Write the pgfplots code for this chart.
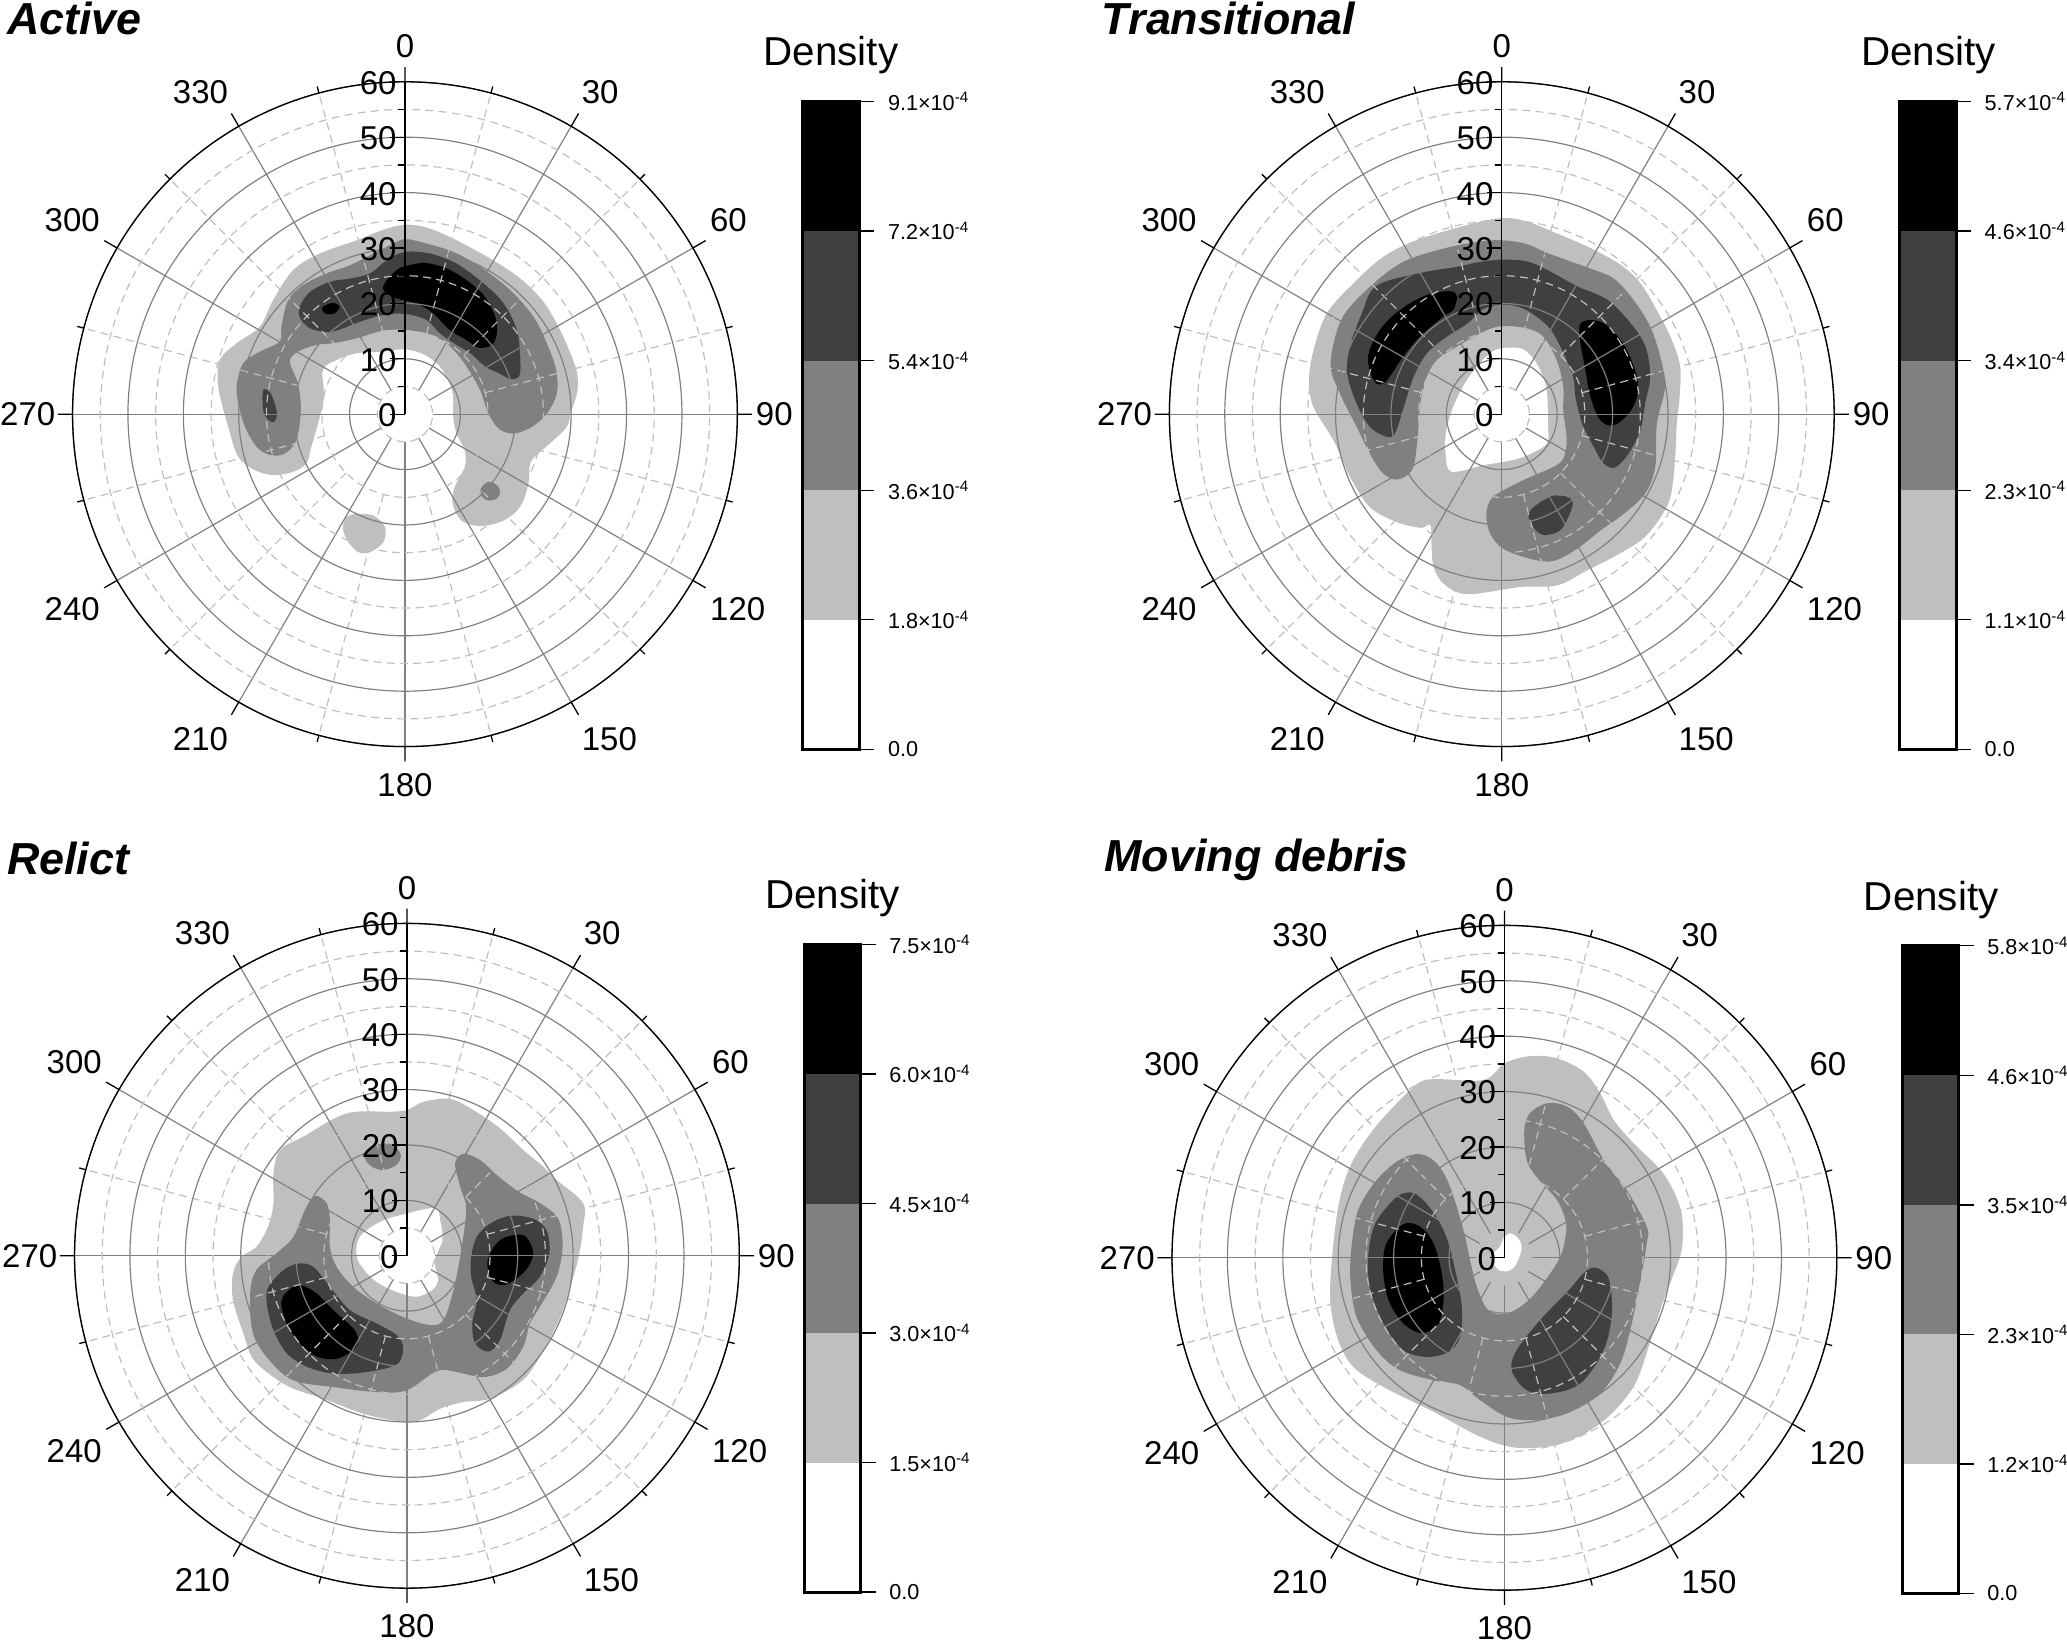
\documentclass[border=0pt]{standalone}
\usepackage{fontspec}
\setmainfont{Liberation Sans}
\usepackage{pgfplots}
\pgfplotsset{compat=1.18}
\usepgfplotslibrary{polar}

\definecolor{lvA}{gray}{0.75}
\definecolor{lvB}{gray}{0.5}
\definecolor{lvC}{gray}{0.25}
\definecolor{lvD}{gray}{0}

% offsets of the bearing labels from the rim, in pt, for ticks 0,330,...,30
\def\lblx{{0,-14.5,-17,-17,-17,-14.5,0,14.5,17,14,13.5,11}}
\def\lbly{{13.5,13,10.5,0,-11,-14,-14.5,-14,-11,0,10.5,13}}

\pgfplotsset{
  contour/.style={draw=none, fill=#1, data cs=cart, smooth cycle, tension=0.55, forget plot},
  hole/.style={contour=white},
  spoke/.style={color=lvB, line width=0.45pt, forget plot, mark=none},
  minorspoke/.style={color=lvA, line width=0.45pt, dash pattern=on 3pt off 2pt, forget plot, mark=none},
  panel/.style={
    scale only axis, width=252pt, height=252pt, anchor=center,
    xmin=90, xmax=450, ymin=0, ymax=60,
    xtick={90,120,...,420},
    xticklabels={0,330,300,270,240,210,180,150,120,90,60,30},
    minor xtick={105,135,...,435},
    ytick={0,10,...,60}, minor ytick={5,15,...,55},
    yticklabels={0,10,20,30,40,50,60},
    axis on top,
    xmajorgrids=false, xminorgrids=false,
    ymajorgrids, yminorgrids,
    major grid style={color=lvB, line width=0.45pt},
    minor grid style={color=lvA, line width=0.45pt, dash pattern=on 3pt off 2pt},
    axis line style={black, line width=0.5pt},
    tick style={black, line width=0.5pt},
    major tick length=5.6pt, minor tick length=2.6pt,
    tick label style={font=\fontsize{12.5}{14}\selectfont, /pgf/number format/assume math mode=true},
    xticklabel style={anchor=center, inner sep=0pt,
      xshift={\lblx[int(round(mod(\tick+270,360)/30))]*1pt},
      yshift={\lbly[int(round(mod(\tick+270,360)/30))]*1pt}},
    y tick label style={inner sep=3pt, yshift=-0.4pt},
  },
  cbar/.style={
    scale only axis, width=21.5pt, height=245.5pt, anchor=south west,
    xmin=0, xmax=1, ymin=0, axis on top,
    xtick=\empty,
    ytick pos=right, yticklabel pos=right,
    ytick align=outside, major tick length=5.6pt,
    axis line style={black, line width=1.2pt},
    ytick style={black, line width=0.5pt},
    y tick label style={font=\fontsize{8.2}{10}\selectfont, inner sep=5pt},
  },
}

\newcommand{\spokes}{%
  \pgfplotsinvokeforeach{120,150,180,210,240,270,300,330,360,390,420}{%
    \addplot[spoke] coordinates {(##1,5) (##1,60)};}
  \pgfplotsinvokeforeach{105,135,165,195,225,255,285,315,345,375,405,435}{%
    \addplot[minorspoke] coordinates {(##1,15) (##1,60)};}
}
% colour bar: five bands, band edges as read from the scale
\newcommand{\bands}[5]{%
  \addplot[fill=white, draw=none, forget plot] coordinates {(0,0) (1,0) (1,#1) (0,#1)} -- cycle;
  \addplot[fill=lvA, draw=none, forget plot] coordinates {(0,#1) (1,#1) (1,#2) (0,#2)} -- cycle;
  \addplot[fill=lvB, draw=none, forget plot] coordinates {(0,#2) (1,#2) (1,#3) (0,#3)} -- cycle;
  \addplot[fill=lvC, draw=none, forget plot] coordinates {(0,#3) (1,#3) (1,#4) (0,#4)} -- cycle;
  \addplot[fill=lvD, draw=none, forget plot] coordinates {(0,#4) (1,#4) (1,#5) (0,#5)} -- cycle;
}
\newcommand{\sci}[1]{#1×10\textsuperscript{-4}}

\begin{document}
\begin{tikzpicture}
\path[use as bounding box] (0,0) rectangle (783.5pt,622pt);

% ---------- Active
\begin{polaraxis}[panel, at={(153.5pt,465pt)}]
\addplot[contour=lvA] coordinates {(0,34.2)(3.9,33.7)(8.7,31.7)(15.4,28.1)(20.8,24.5)(25.0,20.3)(28.0,15.2)(30.1,10.4)(31.1,7.3)(31.1,4.0)(30.1,0.7)(29.2,-2.3)(26.8,-4.7)(24.1,-7.1)(22.6,-8.9)(22.3,-12.5)(20.8,-16.7)(17.8,-19.2)(13.6,-20.2)(10.2,-19.2)(8.6,-16.1)(9.0,-13.1)(10.8,-9.5)(10.8,-6.5)(9.3,-3.5)(8.7,-0.2)(8.7,3.1)(8.1,5.5)(6.3,8.6)(3.6,10.7)(0,11.7)(-3.9,11.3)(-8.7,11.0)(-12.3,9.8)(-14.8,8.0)(-14.6,3.1)(-15.7,-1.7)(-16.9,-5.9)(-17.8,-8.9)(-20.2,-10.4)(-23.8,-11.0)(-27.1,-10.1)(-30.1,-7.7)(-31.9,-2.3)(-33.7,4.9)(-33.4,9.8)(-30.4,12.8)(-26.2,15.8)(-23.8,20.6)(-20.2,26.0)(-15.4,29.0)(-8.7,31.4)(-3.9,33.3)};
\addplot[contour=lvA] coordinates {(-8.7,-18.0)(-5.7,-18.3)(-3.6,-20.4)(-3.9,-23.1)(-6.3,-24.9)(-8.4,-24.9)(-10.2,-23.1)(-11.2,-20.7)(-10.6,-18.6)};
\addplot[contour=lvB] coordinates {(0,31.6)(3.9,30.8)(8.7,29.3)(13.6,26.6)(19.0,22.4)(23.2,17.6)(25.6,12.8)(27.3,8.0)(27.4,3.7)(25.6,0.1)(22.9,-2.3)(19.6,-3.5)(16.9,-2.6)(15.1,0.1)(14.2,2.5)(13.3,4.9)(10.5,9.5)(7.5,12.8)(3.9,14.6)(0,15.2)(-3.9,15.1)(-8.7,13.7)(-13.0,12.8)(-16.0,12.5)(-19.3,11.3)(-20.8,9.5)(-19.3,5.5)(-18.8,0.7)(-19.6,-4.7)(-21.7,-7.1)(-24.1,-7.4)(-26.5,-6.2)(-28.6,-2.9)(-29.8,0.7)(-30.4,4.9)(-29.2,9.2)(-26.2,11.3)(-22.6,13.1)(-22.3,15.8)(-21.1,20.6)(-18.4,23.3)(-14.2,25.4)(-9.9,26.9)(-5.7,29.0)(-2.7,30.5)};
\addplot[contour=lvB] coordinates {(15.4,-12.2)(16.6,-12.8)(17.2,-14.0)(16.6,-15.2)(15.1,-15.6)(13.9,-14.9)(13.7,-13.4)(14.5,-12.5)};
\addplot[contour=lvC] coordinates {(0,29.3)(4.5,29.0)(9.3,27.2)(14.2,23.6)(17.8,20.0)(20.2,15.2)(20.8,10.4)(20.7,7.1)(19.3,6.3)(16.9,7.4)(14.5,8.6)(11.8,11.0)(9.3,12.5)(6.3,14.6)(3.9,17.0)(0,18.1)(-3.9,17.9)(-8.1,16.7)(-11.7,15.3)(-14.1,14.8)(-17.1,15.5)(-18.9,17.3)(-19.0,19.4)(-17.1,22.1)(-13.5,23.9)(-9.9,24.5)(-6.3,25.4)(-3.3,27.8)};
\addplot[contour=lvC] coordinates {(-25.6,4.3)(-24.4,4.0)(-23.5,1.9)(-23.1,-0.2)(-23.7,-1.4)(-24.7,-1.0)(-25.6,0.7)};
\addplot[contour=lvD] coordinates {(0,26.7)(3.6,27.3)(7.5,26.3)(11.1,24.2)(14.2,21.5)(16.3,17.6)(16.6,14.6)(15.7,12.5)(13.3,12.0)(11.1,13.4)(8.1,15.2)(5.1,18.2)(2.1,20.0)(-1.5,20.9)(-3.9,22.4)(-3.3,24.2)(-1.5,26.0)};
\addplot[contour=lvD] coordinates {(-14.8,19.4)(-13.0,20.1)(-11.8,19.4)(-12.7,18.2)(-14.2,18.1)(-14.9,18.7)};
\spokes
\end{polaraxis}
\begin{axis}[cbar, at={(304.3pt,338pt)}, ymax=9.1, ytick={0,1.82,3.64,5.46,7.28,9.1},
  yticklabels={0.0,\sci{1.8},\sci{3.6},\sci{5.4},\sci{7.2},\sci{9.1}}]
\bands{1.82}{3.64}{5.46}{7.28}{9.1}
\end{axis}

% ---------- Transitional
\begin{polaraxis}[panel, at={(569.25pt,465pt)}]
\addplot[contour=lvA] coordinates {(0,35.4)(4.5,34.8)(10.0,32.6)(16.0,30.0)(21.4,27.0)(25.0,23.7)(28.3,18.2)(30.7,13.4)(32.2,8.6)(32.1,3.1)(31.6,-1.7)(31.3,-7.7)(30.7,-13.7)(29.5,-17.3)(25.9,-22.1)(21.4,-25.1)(15.4,-28.2)(10.0,-30.9)(3.3,-31.2)(-6.3,-32.5)(-10.5,-30.6)(-12.3,-27.6)(-12.7,-23.4)(-12.9,-20.0)(-14.7,-20.5)(-18.9,-19.5)(-23.8,-16.8)(-27.4,-11.3)(-30.4,-4.7)(-34.0,1.3)(-34.8,6.1)(-34.0,11.5)(-31.6,18.2)(-26.8,23.6)(-21.4,28.4)(-15.4,31.4)(-5.7,34.3)};
\addplot[hole] coordinates {(0,11.9)(3.9,11.7)(6.6,8.6)(8.1,4.3)(8.3,-1.7)(8.1,-5.3)(3.9,-7.7)(0.3,-8.6)(-3.3,-9.2)(-9.0,-10.4)(-10.1,-7.7)(-10.1,-3.5)(-9.0,0.7)(-7.0,5.0)(-4.5,8.6)(-2.1,11.0)};
\addplot[contour=lvB] coordinates {(0,31.4)(4.5,30.7)(8.7,28.9)(15.4,26.5)(20.2,24.5)(23.8,20.6)(26.8,15.8)(28.6,10.4)(29.5,5.0)(28.0,-1.7)(27.7,-9.5)(25.9,-14.3)(22.0,-18.0)(17.8,-21.0)(13.6,-24.3)(9.3,-26.5)(5.1,-26.1)(0.3,-24.3)(-2.1,-21.6)(-2.8,-18.0)(-2.1,-15.6)(-0.9,-14.4)(3.9,-11.9)(9.9,-9.2)(11.4,-7.2)(11.7,-4.1)(11.1,0.7)(11.1,5.0)(9.9,9.8)(7.5,14.0)(4.5,15.5)(0,15.9)(-3.3,14.9)(-8.1,12.2)(-11.7,9.8)(-13.5,6.8)(-14.7,1.9)(-15.3,-5.3)(-16.2,-10.1)(-18.9,-11.8)(-21.4,-10.7)(-23.5,-7.7)(-26.2,-2.3)(-29.2,3.7)(-30.9,9.1)(-28.9,17.2)(-23.8,23.0)(-17.8,27.5)(-10.5,29.9)(-4.5,31.1)};
\addplot[contour=lvC] coordinates {(0,27.9)(4.5,27.6)(8.1,26.1)(13.6,23.1)(19.0,20.7)(23.2,16.5)(25.9,12.3)(26.8,6.9)(25.9,2.0)(25.0,-2.9)(22.9,-7.1)(20.5,-9.6)(18.4,-8.9)(16.6,-5.9)(14.5,-1.7)(13.3,3.1)(12.7,7.3)(9.3,14.6)(6.3,17.6)(3.3,19.3)(0,19.8)(-3.3,19.0)(-6.3,16.3)(-9.9,14.0)(-13.5,11.0)(-15.9,6.8)(-17.7,1.3)(-19.3,-3.5)(-21.0,-4.0)(-23.8,-2.3)(-26.2,1.9)(-27.9,7.3)(-27.4,12.2)(-25.3,18.1)(-22.6,23.2)(-14.2,25.6)(-8.1,26.6)(-3.9,27.5)};
\addplot[contour=lvC] coordinates {(9.0,-14.8)(11.7,-14.9)(12.8,-15.8)(12.3,-17.9)(10.5,-21.0)(7.5,-21.8)(5.7,-20.4)(4.8,-18.3)(5.7,-16.8)};
\addplot[contour=lvD] coordinates {(-9.3,22.2)(-8.1,21.3)(-8.7,18.9)(-10.2,17.9)(-11.7,16.7)(-14.8,14.0)(-17.8,10.4)(-19.6,7.7)(-21.1,5.7)(-22.6,5.5)(-23.8,7.7)(-24.1,10.7)(-22.6,14.3)(-20.2,17.3)(-16.6,20.0)(-13.0,21.7)};
\addplot[contour=lvD] coordinates {(15.1,16.9)(17.8,16.7)(20.2,14.9)(22.6,11.6)(24.4,6.7)(24.4,3.1)(22.9,0.1)(20.2,-2.0)(17.8,-1.1)(16.0,3.1)(15.1,8.0)(14.2,12.8)(14.0,15.8)};
\spokes
\end{polaraxis}
\begin{axis}[cbar, at={(720pt,338pt)}, ymax=5.7, ytick={0,1.14,2.28,3.42,4.56,5.7},
  yticklabels={0.0,\sci{1.1},\sci{2.3},\sci{3.4},\sci{4.6},\sci{5.7}}]
\bands{1.14}{2.28}{3.42}{4.56}{5.7}
\end{axis}

% ---------- Relict
\begin{polaraxis}[panel, at={(154.25pt,146pt)}]
\addplot[contour=lvA] coordinates {(0,26.3)(3.0,27.8)(7.8,28.3)(12.0,26.3)(16.8,23.0)(21.0,19.1)(24.6,16.1)(27.0,13.7)(31.8,9.5)(31.8,5.2)(31.0,-0.2)(29.5,-5.6)(27.7,-11.0)(24.7,-17.0)(21.0,-22.4)(15.0,-25.8)(10.2,-26.4)(6.0,-27.6)(2.3,-29.7)(-1.3,-29.9)(-7.9,-28.5)(-15.1,-25.8)(-20.5,-24.0)(-24.1,-21.9)(-27.8,-18.6)(-29.5,-14.1)(-31.4,-8.0)(-31.4,-3.2)(-29.9,-0.2)(-27.2,1.6)(-25.1,5.2)(-24.1,9.4)(-24.1,14.9)(-22.9,19.1)(-18.7,21.5)(-10.9,25.7)(-3.1,26.0)};
\addplot[hole] coordinates {(5.1,8.6)(6.0,6.4)(6.4,2.8)(5.0,-0.8)(5.6,-4.4)(4.5,-6.2)(1.7,-7.4)(-1.9,-6.5)(-5.5,-4.7)(-7.9,-2.3)(-9.1,0.1)(-8.5,3.4)(-4.9,6.1)(-0.1,7.6)};
\addplot[contour=lvB] coordinates {(-16.6,10.8)(-14.5,9.5)(-13.9,6.4)(-13.9,1.6)(-12.7,-2.0)(-9.7,-5.6)(-5.5,-8.6)(-0.1,-11.3)(4.2,-12.5)(6.6,-11.6)(8.4,-6.2)(9.6,-0.2)(10.7,8.3)(9.6,12.5)(8.7,16.7)(10.2,18.4)(13.2,17.3)(16.2,14.6)(20.1,11.6)(24.0,9.5)(27.3,6.7)(28.1,1.6)(27.0,-3.8)(24.0,-9.2)(22.2,-12.2)(21.0,-16.4)(18.0,-20.4)(13.8,-21.9)(9.0,-21.0)(5.4,-20.8)(-0.1,-24.3)(-5.5,-24.6)(-13.3,-23.7)(-20.5,-22.5)(-24.8,-18.9)(-27.8,-14.0)(-28.3,-6.8)(-27.2,-2.6)(-23.6,0.4)(-20.5,3.4)(-18.4,8.3)};
\addplot[contour=lvB] coordinates {(-7.3,19.1)(-4.9,20.2)(-2.5,20.0)(-1.1,18.2)(-1.9,16.4)(-4.3,15.5)(-6.4,16.1)(-7.6,17.6)};
\addplot[contour=lvC] coordinates {(-19.6,-1.4)(-16.9,-2.0)(-13.9,-5.6)(-10.3,-9.8)(-5.5,-12.2)(-1.9,-14.3)(-0.7,-16.4)(-1.3,-19.1)(-3.7,-20.3)(-9.1,-21.2)(-13.9,-21.2)(-18.1,-20.0)(-21.7,-17.6)(-24.1,-13.4)(-25.3,-8.6)(-25.0,-5.6)(-22.3,-2.6)};
\addplot[contour=lvC] coordinates {(18.6,7.2)(22.8,6.7)(25.2,4.6)(25.7,0.4)(24.0,-3.8)(21.0,-6.8)(18.6,-9.8)(16.8,-15.2)(14.7,-17.3)(12.3,-15.8)(11.8,-12.2)(12.6,-8.0)(11.6,-3.8)(11.6,-0.2)(12.6,3.4)(15.0,5.8)};
\addplot[contour=lvD] coordinates {(-19.3,-5.3)(-16.3,-6.8)(-13.3,-9.8)(-9.7,-13.1)(-8.8,-15.2)(-9.7,-17.0)(-12.7,-18.6)(-16.3,-18.2)(-19.3,-15.8)(-21.7,-12.2)(-22.7,-8.6)(-21.7,-6.5)};
\addplot[contour=lvD] coordinates {(18.6,3.6)(21.3,3.6)(22.8,0.7)(21.9,-2.0)(19.8,-4.1)(17.4,-5.3)(15.3,-4.4)(14.5,-1.4)(15.3,1.0)(16.8,2.8)};
\spokes
\end{polaraxis}
\begin{axis}[cbar, at={(304.8pt,18.5pt)}, ymax=7.5, ytick={0,1.5,3.0,4.5,6.0,7.5},
  yticklabels={0.0,\sci{1.5},\sci{3.0},\sci{4.5},\sci{6.0},\sci{7.5}}]
\bands{1.5}{3.0}{4.5}{6.0}{7.5}
\end{axis}

% ---------- Moving debris
\begin{polaraxis}[panel, at={(570.25pt,145.25pt)}]
\addplot[contour=lvA] coordinates {(0,35.1)(4.6,36.4)(9.5,36.0)(14.3,33.6)(17.3,29.7)(19.7,24.9)(23.3,20.7)(28.7,15.2)(31.7,9.2)(32.2,4.4)(31.7,0.2)(28.7,-7.7)(26.6,-14.3)(23.3,-23.3)(17.3,-29.9)(10.1,-33.6)(2.2,-34.3)(-4.4,-32.3)(-12.8,-27.8)(-21.9,-23.3)(-27.3,-19.7)(-30.0,-14.9)(-31.4,-8.3)(-31.2,-1.0)(-30.0,9.2)(-27.9,16.4)(-23.7,23.1)(-17.0,30.3)(-13.4,32.2)(-3.8,32.1)};
\addplot[hole] coordinates {(1.0,4.4)(2.5,3.5)(3.1,1.7)(2.2,-1.0)(1.0,-2.3)(-0.8,-2.3)(-2.1,-1.0)(-2.3,0.5)(-0.8,2.0)(-0.2,3.5)};
\addplot[contour=lvB] coordinates {(-15.2,18.7)(-12.2,17.0)(-9.8,12.8)(-7.4,5.0)(-6.2,-0.4)(-5.0,-5.2)(-2.9,-9.5)(0.4,-10.1)(4.0,-8.0)(7.0,-4.6)(10.1,0.2)(11.1,4.4)(11.0,6.8)(9.5,10.4)(5.8,14.6)(4.0,17.7)(3.6,23.1)(4.6,26.1)(7.7,27.9)(11.3,27.3)(14.3,24.3)(17.9,17.7)(22.1,12.2)(25.7,5.6)(25.7,2.6)(24.5,-4.6)(22.7,-13.1)(20.9,-19.1)(17.3,-24.5)(11.3,-28.1)(5.2,-29.3)(0.4,-28.7)(-4.4,-25.7)(-8.0,-23.0)(-12.8,-22.1)(-18.9,-20.3)(-23.1,-16.7)(-26.7,-10.7)(-27.8,-4.0)(-27.6,2.0)(-26.4,8.6)(-23.1,14.0)(-18.9,17.7)};
\addplot[contour=lvC] coordinates {(-16.2,11.6)(-12.9,8.3)(-10.5,3.8)(-8.9,-2.2)(-7.7,-8.8)(-8.0,-14.3)(-10.1,-17.0)(-14.0,-17.9)(-18.2,-16.7)(-21.8,-11.9)(-24.2,-5.8)(-24.6,0.2)(-23.3,6.2)(-19.4,11.0)};
\addplot[contour=lvC] coordinates {(16.4,-1.8)(18.8,-3.7)(19.4,-10.1)(17.9,-16.7)(13.7,-22.7)(8.3,-24.5)(4.0,-23.9)(1.3,-20.3)(2.2,-16.7)(6.4,-11.3)(11.3,-6.2)(14.3,-2.8)};
\addplot[contour=lvD] coordinates {(-18.2,6.1)(-15.2,5.6)(-12.8,2.6)(-11.3,-2.8)(-11.0,-7.7)(-11.9,-11.9)(-14.9,-13.6)(-18.2,-11.9)(-20.9,-7.7)(-21.9,-2.2)(-21.3,2.6)};
\spokes
\end{polaraxis}
\begin{axis}[cbar, at={(721pt,18pt)}, ymax=5.8, ytick={0,1.16,2.32,3.48,4.64,5.8},
  yticklabels={0.0,\sci{1.2},\sci{2.3},\sci{3.5},\sci{4.6},\sci{5.8}}]
\bands{1.16}{2.32}{3.48}{4.64}{5.8}
\end{axis}

% titles and scale headings
\tikzset{ttl/.style={anchor=west, inner sep=0pt, font=\fontsize{17}{20}\selectfont\bfseries\itshape},
         dens/.style={inner sep=0pt, font=\fontsize{15.3}{18}\selectfont}}
\node[ttl] at (2.5pt,615pt) {Active};
\node[ttl] at (417.5pt,615pt) {Transitional};
\node[ttl] at (2.5pt,296.5pt) {Relict};
\node[ttl] at (418.5pt,296pt) {Moving debris};
\node[dens] at (315pt,601pt) {Density};
\node[dens] at (731pt,601pt) {Density};
\node[dens] at (315.5pt,281.5pt) {Density};
\node[dens] at (732pt,281pt) {Density};
\end{tikzpicture}
\end{document}
